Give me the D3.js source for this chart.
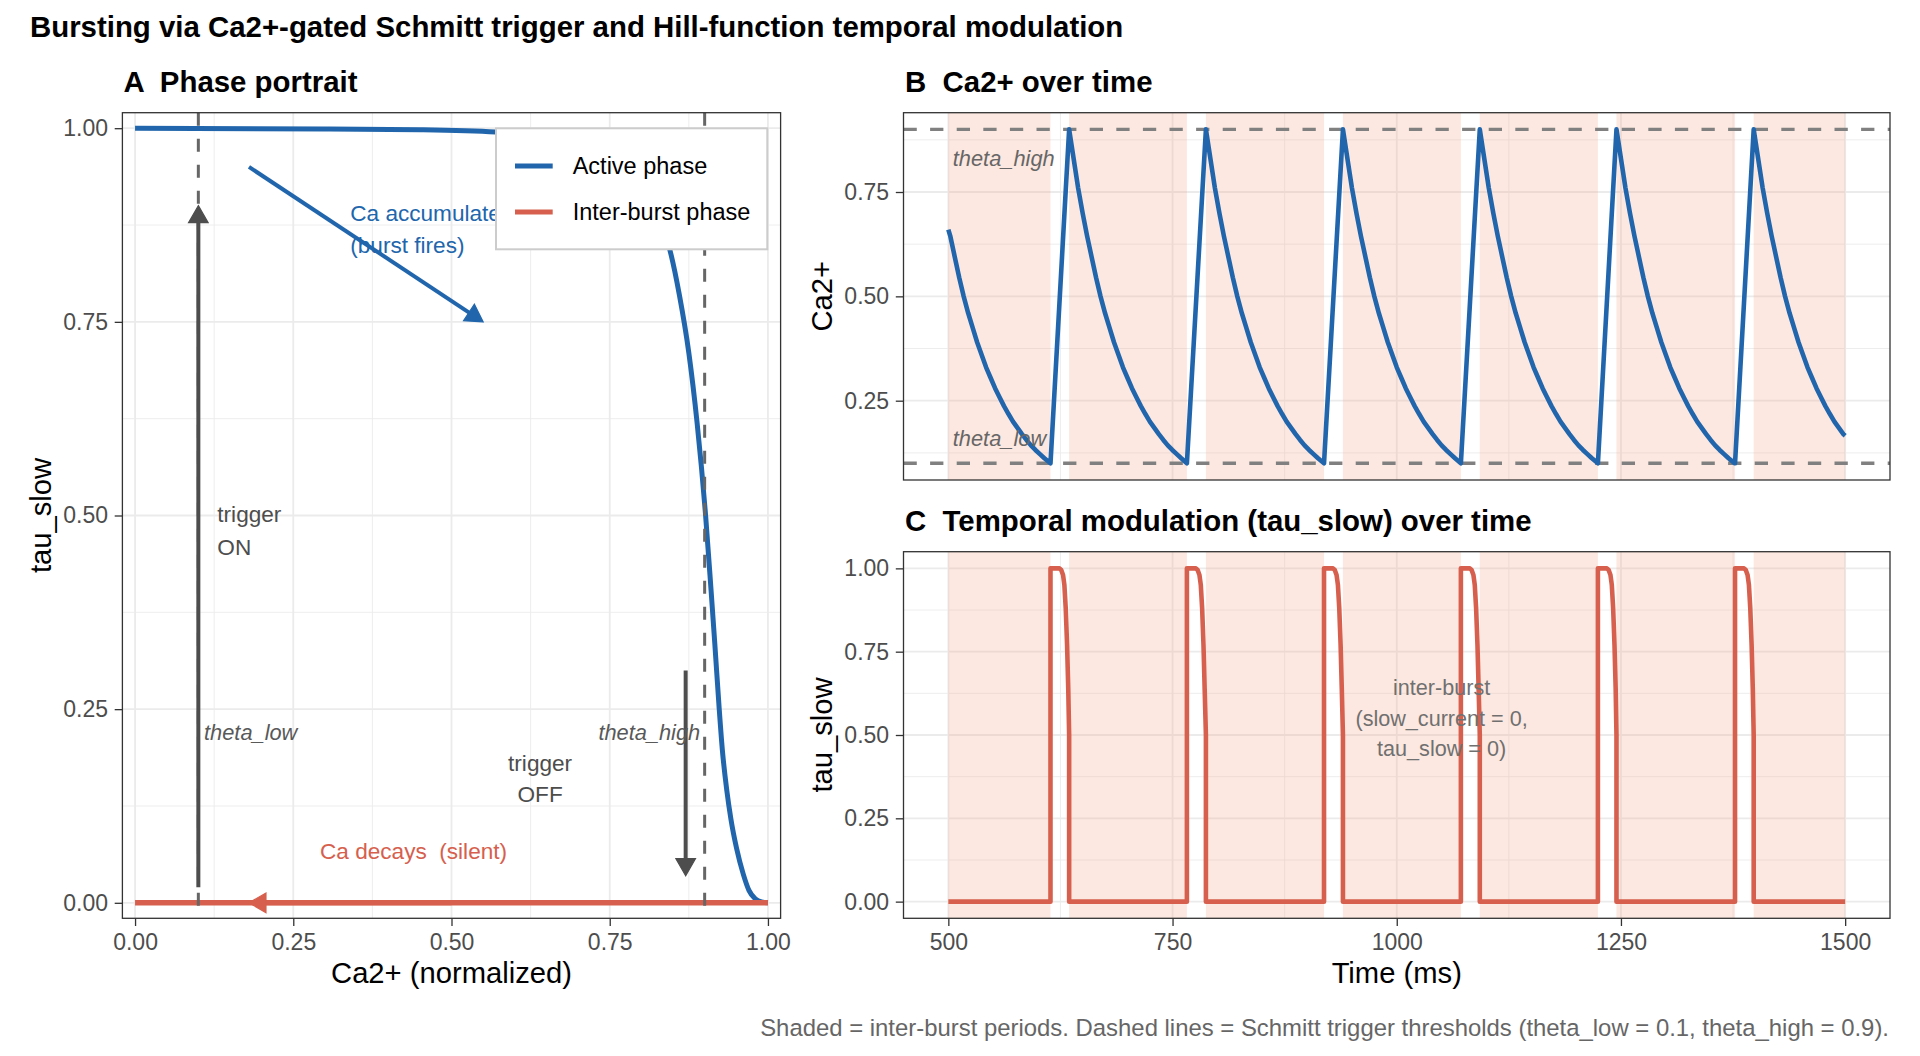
<!DOCTYPE html>
<html>
<head>
<meta charset="utf-8">
<script src="https://cdn.jsdelivr.net/npm/d3@7"></script>
<style>
  body { margin: 0; background: #ffffff; }
  svg text { font-family: "Liberation Sans", Arial, Helvetica, sans-serif; white-space: pre; }
</style>
</head>
<body>
<div id="chart"></div>
<script>
// ---------------- data ----------------
var thetaLow = 0.1, thetaHigh = 0.9;

// A: active-phase Hill curve, tau_slow as a function of Ca2+
var hillCa  = [0.00, 0.30, 0.45, 0.57, 0.65, 0.72, 0.78, 0.82, 0.845, 0.86, 0.875, 0.888, 0.9015, 0.91, 0.916, 0.9226, 0.928, 0.935, 0.9415, 0.9505, 0.961, 0.97, 0.98, 0.99, 1.00];
var hillTau = [1.00, 0.999, 0.998, 0.995, 0.988, 0.972, 0.94, 0.89, 0.843, 0.785, 0.71, 0.62, 0.50, 0.405, 0.335, 0.255, 0.197, 0.145, 0.108, 0.07, 0.037, 0.016, 0.005, 0.001, 0.00];
// A: inter-burst branch sits on tau_slow = 0
var silentCa  = [0.00, 1.00];
var silentTau = [0.00, 0.00];

// B/C: burst onsets (Ca falls to theta_low) and burst ends (Ca reaches theta_high), ms
var troughTimes = [613.9, 766.0, 918.9, 1071.5, 1224.3, 1377.2];
var peakTimes   = [634.7, 787.2, 940.0, 1092.6, 1245.0, 1398.0];
var timeStart = 500, timeEnd = 1500;
var caAtStart = 0.66, caAtEnd = 0.166;

// B: decay of Ca2+ after a peak (ms after peak, Ca2+)
var decayMs = [0, 5, 10, 15, 20, 25, 30, 35, 40, 45, 50, 55, 60, 65, 70, 75, 80, 85, 90, 95, 100, 105, 110, 115, 120, 125, 131.8];
var decayCa = [0.90, 0.83, 0.76, 0.70, 0.645, 0.595, 0.545, 0.50, 0.46, 0.425, 0.39, 0.36, 0.33, 0.305, 0.28, 0.258, 0.237, 0.218, 0.20, 0.185, 0.17, 0.156, 0.143, 0.132, 0.122, 0.112, 0.10];

// C: tau_slow during a burst (ms after onset, tau_slow)
var burstMs  = [0, 10, 12, 14, 15.5, 17, 18.5, 19.8];
var burstTau = [1, 1, 0.995, 0.98, 0.95, 0.88, 0.77, 0.64];

var unitTicks  = [0, 0.25, 0.5, 0.75, 1];
var unitMinor  = [0.125, 0.375, 0.625, 0.875];
var caTicks    = [0.25, 0.5, 0.75];
var timeTicks  = [500, 750, 1000, 1250, 1500];
var timeMinor  = [625, 875, 1125, 1375];

// ---------------- styles ----------------
var blue = "#2166AC", red = "#D6604D", shadeCol = "#F4A582";
var gridCol = "#EBEBEB", borderCol = "#333333", tickTextCol = "#4D4D4D";
var dashCol = "#666666";
var noteSize = 22.6, italicSize = 21.8;
var fmt2 = d3.format(".2f");

var svg = d3.select("#chart").append("svg")
  .attr("width", 1920)
  .attr("height", 1056);

// panel boxes in pixels
var boxA = {left: 122.4, top: 112.7, width: 658.2, height: 805.6};
var boxB = {left: 903.5, top: 112.7, width: 986.5, height: 367.3};
var boxC = {left: 903.5, top: 551.7, width: 986.5, height: 366.6};

var xA = d3.scaleLinear().domain([-0.02, 1.02]).range([0, boxA.width]);
var yA = d3.scaleLinear().domain([-0.02, 1.02]).range([boxA.height, 0]);
var xB = d3.scaleLinear().domain([450, 1550]).range([0, boxB.width]);
var yB = d3.scaleLinear().domain([0.06, 0.94]).range([boxB.height, 0]);
var xC = d3.scaleLinear().domain([450, 1550]).range([0, boxC.width]);
var yC = d3.scaleLinear().domain([-0.05, 1.05]).range([boxC.height, 0]);

// ---------------- build the time series ----------------
var caSeries = [[timeStart, caAtStart]];
decayMs.forEach(function(d, i) {
  var t = troughTimes[0] - decayMs[decayMs.length - 1] + d;
  if (t > timeStart && t < troughTimes[0]) caSeries.push([t, decayCa[i]]);
});
troughTimes.forEach(function(tr, k) {
  caSeries.push([tr, thetaLow]);
  caSeries.push([peakTimes[k], thetaHigh]);
  var stop = k + 1 < troughTimes.length ? troughTimes[k + 1] : timeEnd;
  decayMs.forEach(function(d, i) {
    var t = peakTimes[k] + d;
    if (d > 0 && t < stop) caSeries.push([t, decayCa[i]]);
  });
});
caSeries.push([timeEnd, caAtEnd]);

var tauSeries = [[timeStart, 0]];
troughTimes.forEach(function(tr, k) {
  tauSeries.push([tr, 0]);
  burstMs.forEach(function(d, i) { tauSeries.push([tr + d, burstTau[i]]); });
  tauSeries.push([peakTimes[k], 0.5]);
  tauSeries.push([peakTimes[k], 0]);
});
tauSeries.push([timeEnd, 0]);

// shaded inter-burst windows
var shadeSpans = [[timeStart, troughTimes[0]]];
peakTimes.forEach(function(p, k) {
  shadeSpans.push([p, k + 1 < troughTimes.length ? troughTimes[k + 1] : timeEnd]);
});

// ---------------- helpers ----------------
function makePanel(box, id) {
  var g = svg.append("g").attr("transform", "translate(" + box.left + "," + box.top + ")");
  svg.append("clipPath").attr("id", id).append("rect")
    .attr("width", box.width).attr("height", box.height);
  return g;
}

function drawGrid(g, box, x, y, xMaj, xMin, yMaj, yMin) {
  var grid = g.append("g");
  grid.selectAll(".vmin").data(xMin).enter().append("line")
    .attr("x1", x).attr("x2", x).attr("y1", 0).attr("y2", box.height)
    .attr("stroke", gridCol).attr("stroke-width", 0.9);
  grid.selectAll(".hmin").data(yMin).enter().append("line")
    .attr("y1", y).attr("y2", y).attr("x1", 0).attr("x2", box.width)
    .attr("stroke", gridCol).attr("stroke-width", 0.9);
  grid.selectAll(".vmaj").data(xMaj).enter().append("line")
    .attr("x1", x).attr("x2", x).attr("y1", 0).attr("y2", box.height)
    .attr("stroke", gridCol).attr("stroke-width", 1.8);
  grid.selectAll(".hmaj").data(yMaj).enter().append("line")
    .attr("y1", y).attr("y2", y).attr("x1", 0).attr("x2", box.width)
    .attr("stroke", gridCol).attr("stroke-width", 1.8);
}

function styleAxis(a) {
  a.select(".domain").remove();
  a.selectAll(".tick line").attr("stroke", borderCol).attr("stroke-width", 1.3);
  a.selectAll(".tick text")
    .attr("fill", tickTextCol)
    .attr("font-size", 23)
    .attr("font-family", "Liberation Sans, Arial, sans-serif");
}

function drawAxes(g, box, x, y, xTicks, yTicks, xFmt, showX) {
  var ax = g.append("g").attr("transform", "translate(0," + box.height + ")")
    .call(d3.axisBottom(x).tickValues(xTicks).tickSize(7.7).tickPadding(8).tickFormat(xFmt));
  styleAxis(ax);
  if (!showX) ax.remove();
  var ay = g.append("g")
    .call(d3.axisLeft(y).tickValues(yTicks).tickSize(7.7).tickPadding(6.7).tickFormat(fmt2));
  styleAxis(ay);
}

function drawBorder(g, box) {
  g.append("rect")
    .attr("width", box.width).attr("height", box.height)
    .attr("fill", "none").attr("stroke", borderCol).attr("stroke-width", 1.3);
}

// arrow with a closed head, all in pixel space
function arrow(g, x1, y1, x2, y2, color, width) {
  var len = 17, half = 9.8;
  var dx = x2 - x1, dy = y2 - y1, d = Math.sqrt(dx * dx + dy * dy);
  var ux = dx / d, uy = dy / d;
  var bx = x2 - ux * len, by = y2 - uy * len;
  g.append("line")
    .attr("x1", x1).attr("y1", y1).attr("x2", bx + ux * 2).attr("y2", by + uy * 2)
    .attr("stroke", color).attr("stroke-width", width);
  g.append("path")
    .attr("d", "M" + x2 + "," + y2 +
      "L" + (bx - uy * half) + "," + (by + ux * half) +
      "L" + (bx + uy * half) + "," + (by - ux * half) + "Z")
    .attr("fill", color).attr("stroke", color).attr("stroke-width", 1.2)
    .attr("stroke-linejoin", "miter");
}

// multi-line label centred on (px, py)
function label(g, px, py, lines, opts) {
  var lh = opts.lineHeight || 31.5;
  var t = g.append("text")
    .attr("font-size", opts.size)
    .attr("fill", opts.color)
    .attr("text-anchor", opts.anchor || "middle")
    .attr("font-style", opts.italic ? "italic" : null);
  lines.forEach(function(s, i) {
    t.append("tspan")
      .attr("x", px)
      .attr("y", py + (i - (lines.length - 1) / 2) * lh + opts.size * 0.35)
      .text(s);
  });
  return t;
}

// ---------------- titles ----------------
svg.append("text").attr("x", 30).attr("y", 37)
  .attr("font-size", 29.4).attr("font-weight", "bold")
  .text("Bursting via Ca2+-gated Schmitt trigger and Hill-function temporal modulation");

svg.append("text").attr("x", boxA.left + 1).attr("y", 92)
  .attr("font-size", 29.4).attr("font-weight", "bold").text("A  Phase portrait");
svg.append("text").attr("x", boxB.left + 1.5).attr("y", 92.3)
  .attr("font-size", 29.4).attr("font-weight", "bold").text("B  Ca2+ over time");
svg.append("text").attr("x", boxC.left + 1.5).attr("y", 530.7)
  .attr("font-size", 29.4).attr("font-weight", "bold").text("C  Temporal modulation (tau_slow) over time");

// ---------------- panel A ----------------
var gA = makePanel(boxA, "clipA");
drawGrid(gA, boxA, xA, yA, unitTicks, unitMinor, unitTicks, unitMinor);
var cA = gA.append("g").attr("clip-path", "url(#clipA)");

cA.append("path")
  .datum(d3.zip(hillCa, hillTau))
  .attr("fill", "none").attr("stroke", blue).attr("stroke-width", 5)
  .attr("stroke-linejoin", "round")
  .attr("d", d3.line().x(function(d) { return xA(d[0]); }).y(function(d) { return yA(d[1]); }).curve(d3.curveMonotoneX));

cA.append("path")
  .datum(d3.zip(silentCa, silentTau))
  .attr("fill", "none").attr("stroke", red).attr("stroke-width", 5.5)
  .attr("d", d3.line().x(function(d) { return xA(d[0]); }).y(function(d) { return yA(d[1]); }));

cA.selectAll(".thr").data([thetaLow, thetaHigh]).enter().append("line")
  .attr("x1", xA).attr("x2", xA).attr("y1", 0).attr("y2", boxA.height)
  .attr("stroke", dashCol).attr("stroke-width", 3).attr("stroke-dasharray", "13,13");

// annotations
label(cA, xA(0.34), yA(0.87), ["Ca accumulates", "(burst fires)"], {size: noteSize, color: blue, anchor: "start"});
arrow(cA, xA(0.18), yA(0.95), xA(0.55), yA(0.75), blue, 4);
arrow(cA, xA(thetaLow), yA(0.02), xA(thetaLow), yA(0.9), "#4D4D4D", 4);
arrow(cA, xA(0.87), yA(0.30), xA(0.87), yA(0.035), "#4D4D4D", 4);
arrow(cA, xA(0.5), yA(0), xA(0.18), yA(0), red, 5);
label(cA, xA(0.13), yA(0.48), ["trigger", "ON"], {size: noteSize, color: "#4D4D4D", anchor: "start", lineHeight: 33});
label(cA, xA(0.64), yA(0.16), ["trigger", "OFF"], {size: noteSize, color: "#4D4D4D", lineHeight: 31});
label(cA, xA(0.109), yA(0.22), ["theta_low"], {size: italicSize, color: "#595959", anchor: "start", italic: true});
label(cA, xA(0.893), yA(0.22), ["theta_high"], {size: italicSize, color: "#595959", anchor: "end", italic: true});
label(cA, xA(0.44), yA(0.067), ["Ca decays  (silent)"], {size: noteSize, color: red});

// legend
var leg = gA.append("g").attr("transform", "translate(" + (boxA.width - 13.3 - 271.3) + ",15.6)");
leg.append("rect").attr("width", 271.3).attr("height", 121)
  .attr("fill", "#ffffff").attr("stroke", "#CCCCCC").attr("stroke-width", 2);
var legItems = [{name: "Active phase", color: blue}, {name: "Inter-burst phase", color: red}];
var legRow = leg.selectAll(".row").data(legItems).enter().append("g")
  .attr("transform", function(d, i) { return "translate(0," + (37.7 + i * 46) + ")"; });
legRow.append("line").attr("x1", 19).attr("x2", 56.7)
  .attr("stroke", function(d) { return d.color; }).attr("stroke-width", 5);
legRow.append("text").attr("x", 76.7).attr("y", 8.2)
  .attr("font-size", 23.5).attr("fill", "#000").text(function(d) { return d.name; });

drawAxes(gA, boxA, xA, yA, unitTicks, unitTicks, fmt2, true);
drawBorder(gA, boxA);

// ---------------- panel B ----------------
var gB = makePanel(boxB, "clipB");
drawGrid(gB, boxB, xB, yB, timeTicks, timeMinor, caTicks, unitMinor);
var cB = gB.append("g").attr("clip-path", "url(#clipB)");
cB.selectAll(".shade").data(shadeSpans).enter().append("rect")
  .attr("x", function(d) { return xB(d[0]); })
  .attr("width", function(d) { return xB(d[1]) - xB(d[0]); })
  .attr("y", 0).attr("height", boxB.height)
  .attr("fill", shadeCol).attr("fill-opacity", 0.25);
cB.selectAll(".thr").data([thetaLow, thetaHigh]).enter().append("line")
  .attr("y1", yB).attr("y2", yB).attr("x1", 0).attr("x2", boxB.width)
  .attr("stroke", "#808080").attr("stroke-width", 3.4).attr("stroke-dasharray", "13.3,13.3");
cB.append("path")
  .datum(caSeries)
  .attr("fill", "none").attr("stroke", blue).attr("stroke-width", 4.6)
  .attr("stroke-linejoin", "round")
  .attr("d", d3.line().x(function(d) { return xB(d[0]); }).y(function(d) { return yB(d[1]); }));
label(cB, xB(505), yB(0.83), ["theta_high"], {size: italicSize, color: "#666666", anchor: "start", italic: true});
label(cB, xB(505), yB(0.16), ["theta_low"], {size: italicSize, color: "#666666", anchor: "start", italic: true});
drawAxes(gB, boxB, xB, yB, timeTicks, caTicks, d3.format("d"), false);
drawBorder(gB, boxB);

// ---------------- panel C ----------------
var gC = makePanel(boxC, "clipC");
drawGrid(gC, boxC, xC, yC, timeTicks, timeMinor, unitTicks, unitMinor);
var cC = gC.append("g").attr("clip-path", "url(#clipC)");
cC.selectAll(".shade").data(shadeSpans).enter().append("rect")
  .attr("x", function(d) { return xC(d[0]); })
  .attr("width", function(d) { return xC(d[1]) - xC(d[0]); })
  .attr("y", 0).attr("height", boxC.height)
  .attr("fill", shadeCol).attr("fill-opacity", 0.25);
cC.append("path")
  .datum(tauSeries)
  .attr("fill", "none").attr("stroke", red).attr("stroke-width", 4.6)
  .attr("stroke-linejoin", "round")
  .attr("d", d3.line().x(function(d) { return xC(d[0]); }).y(function(d) { return yC(d[1]); }));
label(cC, xC(1050), yC(0.55), ["inter-burst", "(slow_current = 0,", "tau_slow = 0)"], {size: 21.6, color: "#707070", lineHeight: 30.5});
drawAxes(gC, boxC, xC, yC, timeTicks, unitTicks, d3.format("d"), true);
drawBorder(gC, boxC);

// ---------------- axis titles & caption ----------------
svg.append("text").attr("transform", "translate(51,515.5) rotate(-90)")
  .attr("text-anchor", "middle").attr("font-size", 29.2).text("tau_slow");
svg.append("text").attr("transform", "translate(831.5,296.3) rotate(-90)")
  .attr("text-anchor", "middle").attr("font-size", 29.2).text("Ca2+");
svg.append("text").attr("transform", "translate(831.5,735) rotate(-90)")
  .attr("text-anchor", "middle").attr("font-size", 29.2).text("tau_slow");
svg.append("text").attr("x", boxA.left + boxA.width / 2).attr("y", 983)
  .attr("text-anchor", "middle").attr("font-size", 29.2).text("Ca2+ (normalized)");
svg.append("text").attr("x", boxC.left + boxC.width / 2).attr("y", 983)
  .attr("text-anchor", "middle").attr("font-size", 29.2).text("Time (ms)");
svg.append("text").attr("x", 1889).attr("y", 1036)
  .attr("text-anchor", "end").attr("font-size", 23.9).attr("fill", "#666666")
  .text("Shaded = inter-burst periods. Dashed lines = Schmitt trigger thresholds (theta_low = 0.1, theta_high = 0.9).");
</script>
</body>
</html>
